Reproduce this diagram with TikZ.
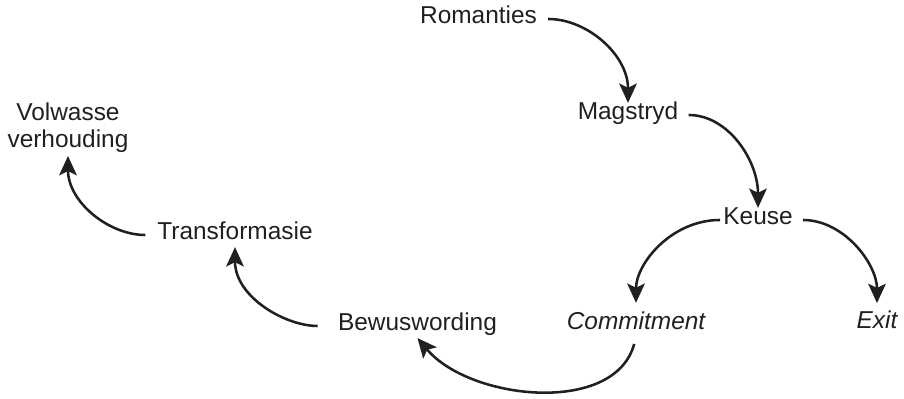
\documentclass[tikz,border=0pt]{standalone}
\usepackage{fontspec}
\setmainfont{Liberation Sans}
\usetikzlibrary{arrows.meta}
\definecolor{ink}{RGB}{35,31,32}

\begin{document}
\begin{tikzpicture}[
        txt/.style={text=ink, font=\fontsize{13.9}{15.4}\selectfont, inner sep=1.7pt},
        stage/.style={txt, text height=0.75em, text depth=0.25em},
        flow/.style={draw=ink, line width=1.45pt,
                -{Stealth[length=11pt, width=10pt, inset=2.4pt]}}
        ]
        	\useasboundingbox (0,0) rectangle (18.08,7.98);
        	% Stages:
        	\node[stage] (rom) at (9.57, 7.6) {Romanties};
        	\node[stage] (mag) at (12.56, 5.68) {Magstryd};
        	\node[stage] (keu) at (15.16, 3.58) {Keuse};
        	\node[stage] (com) at (12.72, 1.48) {\itshape Commitment};
        	\node[stage] (exit) at (17.54, 1.5) {\itshape Exit};
        	\node[stage] (bew) at (8.35, 1.46) {Bewuswording};
        	\node[stage] (trans) at (4.7, 3.28) {Transformasie};
        	\node[txt, align=center, anchor=south] (vol) at (1.36, 4.86) {Volwasse\\verhouding};
        	% Arrows:
        	\draw[flow, shorten <=4.5pt] (rom.east) to[out=0, in=90] (mag.north);
        	\draw[flow, shorten <=4pt] (mag.east) to[out=0, in=90] (keu.north);
        	\draw[flow, shorten >=5.7pt] (keu.west) to[out=180, in=90] (com.north);
        	\draw[flow, shorten <=4pt, shorten >=5pt] (keu.east) to[out=0, in=90] (exit.north);
        	\draw[flow, shorten <=4pt] (com.south) to[out=-105, in=-50, looseness=0.95] (bew.south);
        	\draw[flow, shorten <=9.7pt] (bew.west) to[out=180, in=-90] (trans.south);
        	\draw[flow, shorten <=5pt] (trans.west) to[out=180, in=-90] (vol.south);
        \end{tikzpicture}
\end{document}
